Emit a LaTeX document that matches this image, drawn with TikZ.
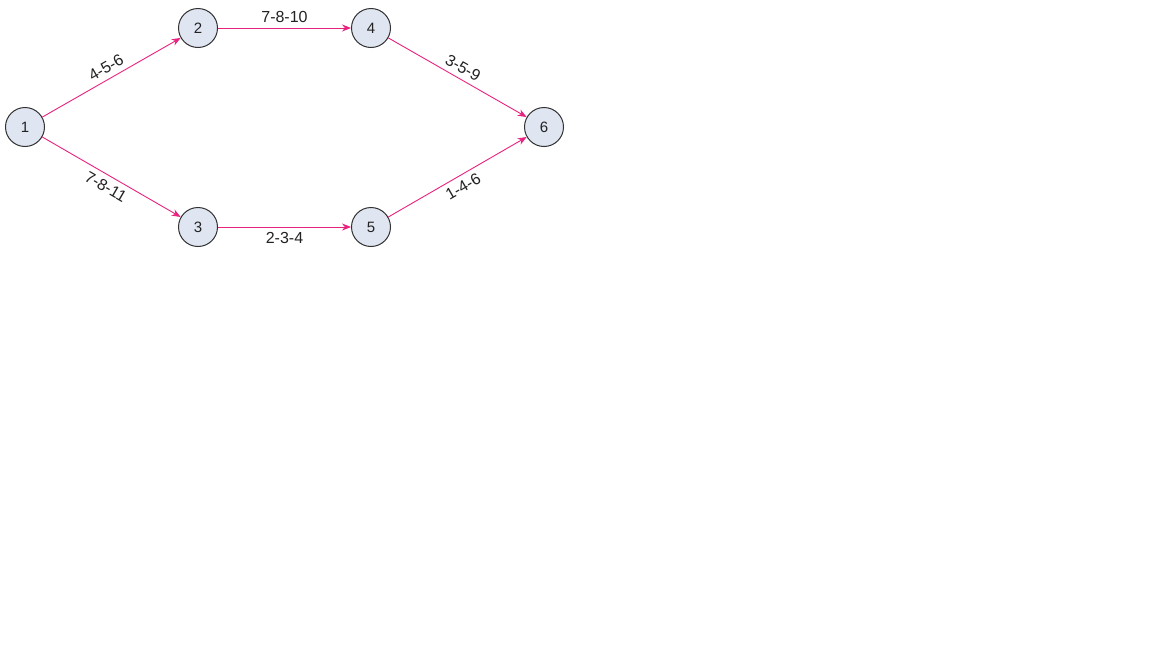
\documentclass[tikz,border=0pt]{standalone}
\usepackage{fontspec}
\setmainfont{Liberation Sans}
\usetikzlibrary{arrows.meta}
\definecolor{nodefill}{HTML}{DFE5F1}
\definecolor{nodeborder}{HTML}{333333}
\definecolor{edgecol}{HTML}{E8237F}
\definecolor{txt}{HTML}{222222}
\begin{document}
\begin{tikzpicture}[x=1pt,y=-1pt,
  ev/.style={circle,draw=nodeborder,fill=nodefill,line width=1pt,minimum size=39pt,inner sep=0pt,font=\fontsize{15}{17}\selectfont,text=txt},
  act/.style={draw=edgecol,line width=0.9pt,-{Stealth[length=9pt,width=7pt]}},
  lab/.style={font=\fontsize{16}{18}\selectfont,text=txt,inner sep=5pt,sloped}]
\path[use as bounding box] (0,0) rectangle (1152,648);
\fill[white] (0,0) rectangle (1152,648);
\node[ev] (n1) at (25,127) {1};
\node[ev] (n2) at (198,28) {2};
\node[ev] (n3) at (198,227) {3};
\node[ev] (n4) at (371,28) {4};
\node[ev] (n5) at (371,227) {5};
\node[ev] (n6) at (544,127) {6};
\draw[act] (n1) -- node[lab,above] {4-5-6} (n2);
\draw[act] (n1) -- node[lab,below] {7-8-11} (n3);
\draw[act] (n2) -- node[lab,above] {7-8-10} (n4);
\draw[act] (n3) -- node[lab,below] {2-3-4} (n5);
\draw[act] (n4) -- node[lab,above] {3-5-9} (n6);
\draw[act] (n5) -- node[lab,below] {1-4-6} (n6);
\end{tikzpicture}
\end{document}
